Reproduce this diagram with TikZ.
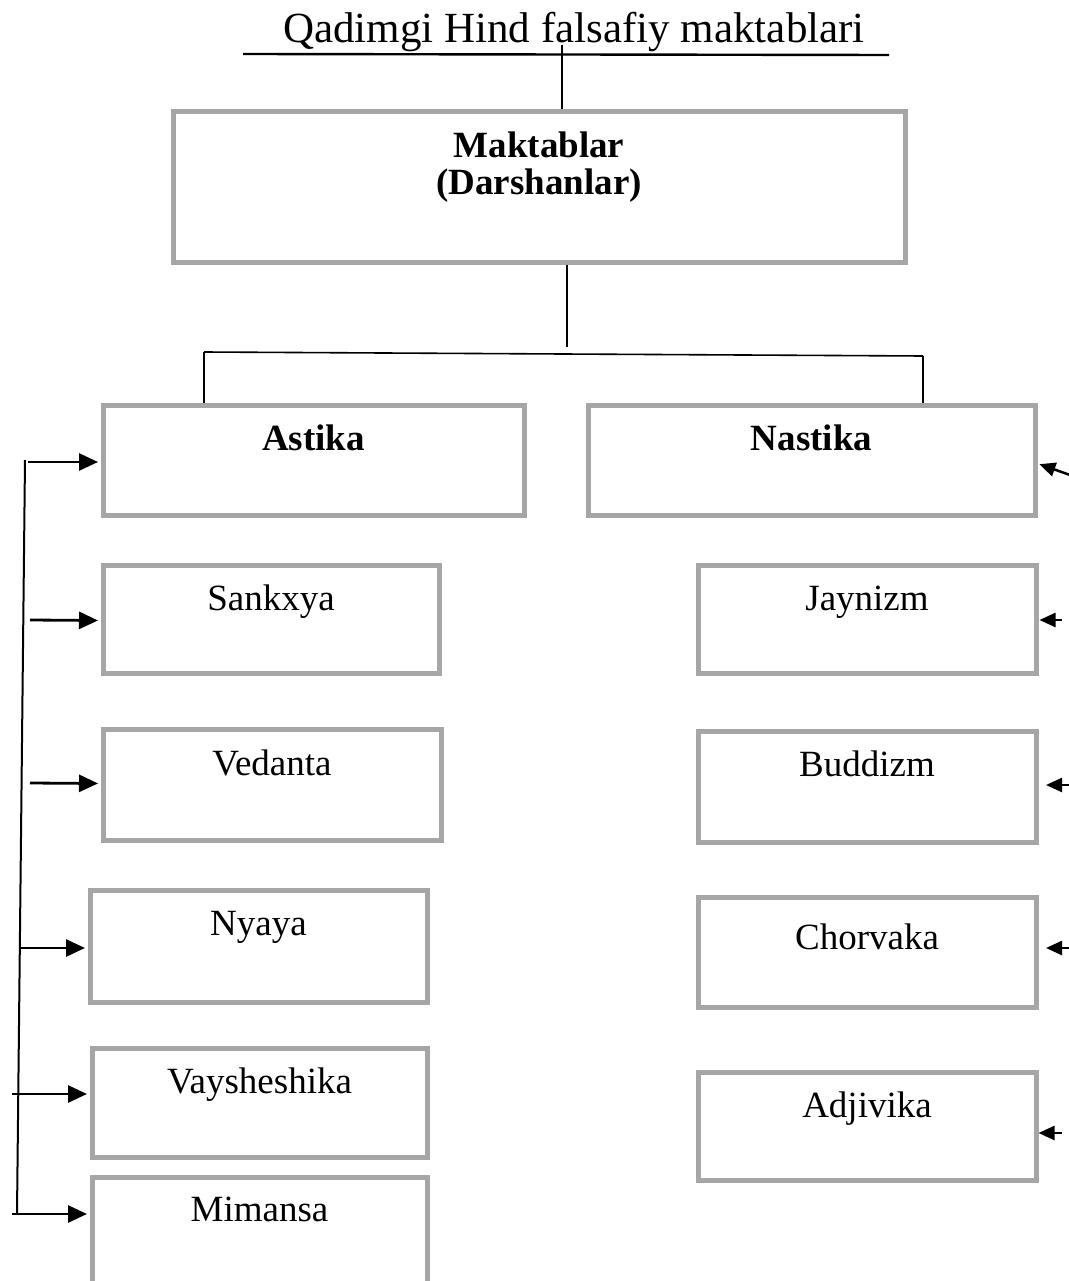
\documentclass[tikz,border=0pt]{standalone}
\usepackage{fontspec}
\setmainfont{Liberation Serif}
\usetikzlibrary{arrows.meta,calc}
\definecolor{boxgray}{HTML}{A6A6A6}
\begin{document}
\begin{tikzpicture}[x=1pt,y=-1pt,
  bx/.style n args={3}{draw=boxgray, line width=5pt, rectangle, inner sep=0pt,
    anchor=north west, minimum width=#1, text height=#2, text depth=#3,
    font=\fontsize{37}{36}\selectfont},
  conn/.style={line width=1.6pt},
  larr/.style={line width=2.8pt, -{Triangle[length=19pt,width=17pt]}, shorten >=2.5pt},
  rarr/.style={line width=2.5pt, -{Triangle[length=16pt,width=14pt]}}
]
\useasboundingbox (0,0) rectangle (1068,1281);

% title
\node[anchor=base, inner sep=0pt, font=\fontsize{43}{50}\selectfont] (title) at (574,43) {Qadimgi Hind falsafiy maktablari};
\coordinate (ul1) at (243,54);
\coordinate (ul2) at (889,55);
\draw[line width=2.4pt] (ul1) -- (ul2);

% boxes
\node[bx={732pt}{46pt}{104pt}] (makt) at (170.5,109.5)
  {\bfseries\begin{tabular}[t]{@{}c@{}}Maktablar\\(Darshanlar)\end{tabular}};
\node[bx={421pt}{45pt}{65pt}] (astika) at (100.5,402.5) {\bfseries Astika};
\node[bx={447pt}{45pt}{65pt}] (nastika) at (585.5,402.5) {\bfseries Nastika};

\node[bx={336pt}{45pt}{63pt}] (sankxya) at (100.5,562.5) {Sankxya};
\node[bx={338pt}{46.5pt}{64.5pt}] (vedanta) at (100.5,726.5) {Vedanta};
\node[bx={337pt}{45.5pt}{66.5pt}] (nyaya) at (87.5,887.5) {Nyaya};
\node[bx={335pt}{45pt}{64pt}] (vaysh) at (89.5,1045.5) {Vaysheshika};
\node[bx={335pt}{44pt}{86pt}] (mimansa) at (89.5,1174.5) {Mimansa};

\node[bx={338pt}{45pt}{63pt}] (jaynizm) at (695.5,562.5) {Jaynizm};
\node[bx={338pt}{45.5pt}{65.5pt}] (buddizm) at (695.5,728.5) {Buddizm};
\node[bx={338pt}{52.5pt}{57.5pt}] (chorvaka) at (695.5,894.5) {Chorvaka};
\node[bx={338pt}{45.5pt}{62.5pt}] (adjivika) at (695.5,1069.5) {Adjivika};

% tree connectors
\coordinate (tv) at (562,45);
\draw[conn] (tv) -- (tv |- makt.north);
\coordinate (mb) at (567,347);
\draw[conn] (mb |- makt.south) -- (mb);
\coordinate (hl) at (204,352);
\coordinate (hr) at (923,356);
\draw[conn] (hl) -- (hr);
\draw[conn] (hl) -- (hl |- astika.north);
\draw[conn] (hr) -- (hr |- nastika.north);

% left bracket
\coordinate (lt) at (25,460);
\coordinate (lb) at (17,1214);
\draw[line width=2pt] (lt) -- (lb);
\coordinate (a1) at (28,462);
\coordinate (a2) at (30,620);
\coordinate (a3) at (30,783);
\coordinate (a4) at (19,948);
\coordinate (a5) at (12,1094);
\coordinate (a6) at (12,1214);
\draw[larr] (a1) -- (a1 -| astika.west);
\draw[larr] (a2) -- ([yshift=-0.5pt]a2 -| sankxya.west);
\draw[larr] (a3) -- ([yshift=-0.5pt]a3 -| vedanta.west);
\draw[larr] (a4) -- (a4 -| nyaya.west);
\draw[larr] (a5) -- (a5 -| vaysh.west);
\draw[larr] (a6) -- (a6 -| mimansa.west);

% right arrows
\coordinate (b1) at (1070,475);
\coordinate (b2) at (1062,620);
\coordinate (b3) at (1070,785);
\coordinate (b4) at (1070,948);
\coordinate (b5) at (1062,1133);
\draw[rarr, shorten >=2pt] (b1) -- ([yshift=-3.5pt]nastika.east);
\draw[rarr, shorten >=1pt] (b2) -- (b2 -| jaynizm.east);
\draw[rarr, shorten >=7.5pt] (b3) -- (b3 -| buddizm.east);
\draw[rarr, shorten >=7.5pt] (b4) -- (b4 -| chorvaka.east);
\draw[rarr, shorten >=0pt] (b5) -- (b5 -| adjivika.east);
\end{tikzpicture}
\end{document}
